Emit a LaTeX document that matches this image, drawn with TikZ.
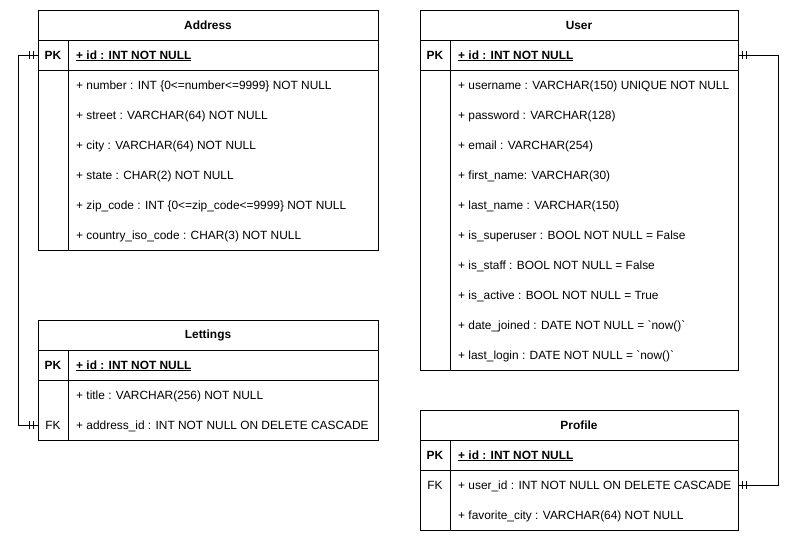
\documentclass[tikz,border=0pt]{standalone}
\usepackage{fontspec}
\setmainfont{Liberation Sans}
\newcommand{\fsz}{\fontsize{11.9}{14}\selectfont}
\begin{document}
\begin{tikzpicture}[x=1pt,y=-1pt,
  box/.style={draw=black, line width=1pt, fill=white, inner sep=0pt, outer sep=0pt, anchor=north west},
  hdr/.style={box, minimum height=30pt, font=\fsz\bfseries},
  txt/.style={inner sep=0pt, anchor=base west, font=\fsz},
  btxt/.style={txt, font=\fsz\bfseries},
  ktxt/.style={inner sep=0pt, anchor=base, font=\fsz},
  bktxt/.style={ktxt, font=\fsz\bfseries},
  conn/.style={draw=black, line width=1pt},
  tick/.style={draw=black, line width=1pt}]
\useasboundingbox[fill=white] (0,0) rectangle (798,541);

% ---------------- Address ----------------
\node[hdr, minimum width=340pt] (addrT) at (38,10) {Address};
\node[box, minimum width=30pt, minimum height=30pt] (addrPKc) at (38,40) {};
\node[box, minimum width=310pt, minimum height=30pt] (addrPKr) at (68,40) {};
\node[box, minimum width=30pt, minimum height=180pt] (addrKb) at (38,70) {};
\node[box, minimum width=310pt, minimum height=180pt] (addrB) at (68,70) {};
\node[bktxt] (addrPK) at (53,59) {PK};
\node[btxt] (addrId) at (76,59) {\underline{+ id : INT NOT NULL}};
\node[txt] (addr1) at (76,89) {+ number : INT \{0<=number<=9999\} NOT NULL};
\node[txt] (addr2) at (76,119) {+ street : VARCHAR(64) NOT NULL};
\node[txt] (addr3) at (76,149) {+ city : VARCHAR(64) NOT NULL};
\node[txt] (addr4) at (76,179) {+ state : CHAR(2) NOT NULL};
\node[txt] (addr5) at (76,209) {+ zip\_code : INT \{0<=zip\_code<=9999\} NOT NULL};
\node[txt] (addr6) at (76,239) {+ country\_iso\_code : CHAR(3) NOT NULL};

% ---------------- Lettings ----------------
\node[hdr, minimum width=340pt] (letT) at (38,320) {Lettings};
\node[box, minimum width=30pt, minimum height=30pt] (letPKc) at (38,350) {};
\node[box, minimum width=310pt, minimum height=30pt] (letPKr) at (68,350) {};
\node[box, minimum width=30pt, minimum height=60pt] (letKb) at (38,380) {};
\node[box, minimum width=310pt, minimum height=60pt] (letB) at (68,380) {};
\node[bktxt] (letPK) at (53,369) {PK};
\node[btxt] (letId) at (76,369) {\underline{+ id : INT NOT NULL}};
\node[txt] (let1) at (76,399) {+ title : VARCHAR(256) NOT NULL};
\node[ktxt] (letFK) at (53,429) {FK};
\node[txt] (let2) at (76,429) {+ address\_id : INT NOT NULL ON DELETE CASCADE};

% ---------------- User ----------------
\node[hdr, minimum width=318pt] (userT) at (420,10) {User};
\node[box, minimum width=30pt, minimum height=30pt] (userPKc) at (420,40) {};
\node[box, minimum width=288pt, minimum height=30pt] (userPKr) at (450,40) {};
\node[box, minimum width=30pt, minimum height=300pt] (userKb) at (420,70) {};
\node[box, minimum width=288pt, minimum height=300pt] (userB) at (450,70) {};
\node[bktxt] (userPK) at (435,59) {PK};
\node[btxt] (userId) at (458,59) {\underline{+ id : INT NOT NULL}};
\node[txt] (user1) at (458,89) {+ username : VARCHAR(150) UNIQUE NOT NULL};
\node[txt] (user2) at (458,119) {+ password : VARCHAR(128)};
\node[txt] (user3) at (458,149) {+ email : VARCHAR(254)};
\node[txt] (user4) at (458,179) {+ first\_name: VARCHAR(30)};
\node[txt] (user5) at (458,209) {+ last\_name : VARCHAR(150)};
\node[txt] (user6) at (458,239) {+ is\_superuser : BOOL NOT NULL = False};
\node[txt] (user7) at (458,269) {+ is\_staff : BOOL NOT NULL = False};
\node[txt] (user8) at (458,299) {+ is\_active : BOOL NOT NULL = True};
\node[txt] (user9) at (458,329) {+ date\_joined : DATE NOT NULL = \textasciigrave now()\textasciigrave};
\node[txt] (user10) at (458,359) {+ last\_login : DATE NOT NULL = \textasciigrave now()\textasciigrave};

% ---------------- Profile ----------------
\node[hdr, minimum width=318pt] (profT) at (420,410) {Profile};
\node[box, minimum width=30pt, minimum height=30pt] (profPKc) at (420,440) {};
\node[box, minimum width=288pt, minimum height=30pt] (profPKr) at (450,440) {};
\node[box, minimum width=30pt, minimum height=60pt] (profKb) at (420,470) {};
\node[box, minimum width=288pt, minimum height=60pt] (profB) at (450,470) {};
\node[bktxt] (profPK) at (435,459) {PK};
\node[btxt] (profId) at (458,459) {\underline{+ id : INT NOT NULL}};
\node[ktxt] (profFK) at (435,489) {FK};
\node[txt] (prof1) at (458,489) {+ user\_id : INT NOT NULL ON DELETE CASCADE};
\node[txt] (prof2) at (458,519) {+ favorite\_city : VARCHAR(64) NOT NULL};

% ---------------- Connectors ----------------
\coordinate (l1) at (18,55);
\coordinate (l2) at (18,425);
\coordinate (lend) at (38,425);
\draw[conn] (addrPKc.west) -- (l1) -- (l2) -- (lend);
\draw[tick] ([xshift=-5pt,yshift=4pt]addrPKc.west) -- ++(0,8);
\draw[tick] ([xshift=-9pt,yshift=4pt]addrPKc.west) -- ++(0,8);
\draw[tick] ([xshift=-5pt,yshift=4pt]lend) -- ++(0,8);
\draw[tick] ([xshift=-9pt,yshift=4pt]lend) -- ++(0,8);

\coordinate (r1) at (778,55);
\coordinate (r2) at (778,485);
\coordinate (rend) at (738,485);
\draw[conn] (userPKr.east) -- (r1) -- (r2) -- (rend);
\draw[tick] ([xshift=4pt,yshift=4pt]userPKr.east) -- ++(0,8);
\draw[tick] ([xshift=8pt,yshift=4pt]userPKr.east) -- ++(0,8);
\draw[tick] ([xshift=4pt,yshift=4pt]rend) -- ++(0,8);
\draw[tick] ([xshift=8pt,yshift=4pt]rend) -- ++(0,8);
\end{tikzpicture}
\end{document}
